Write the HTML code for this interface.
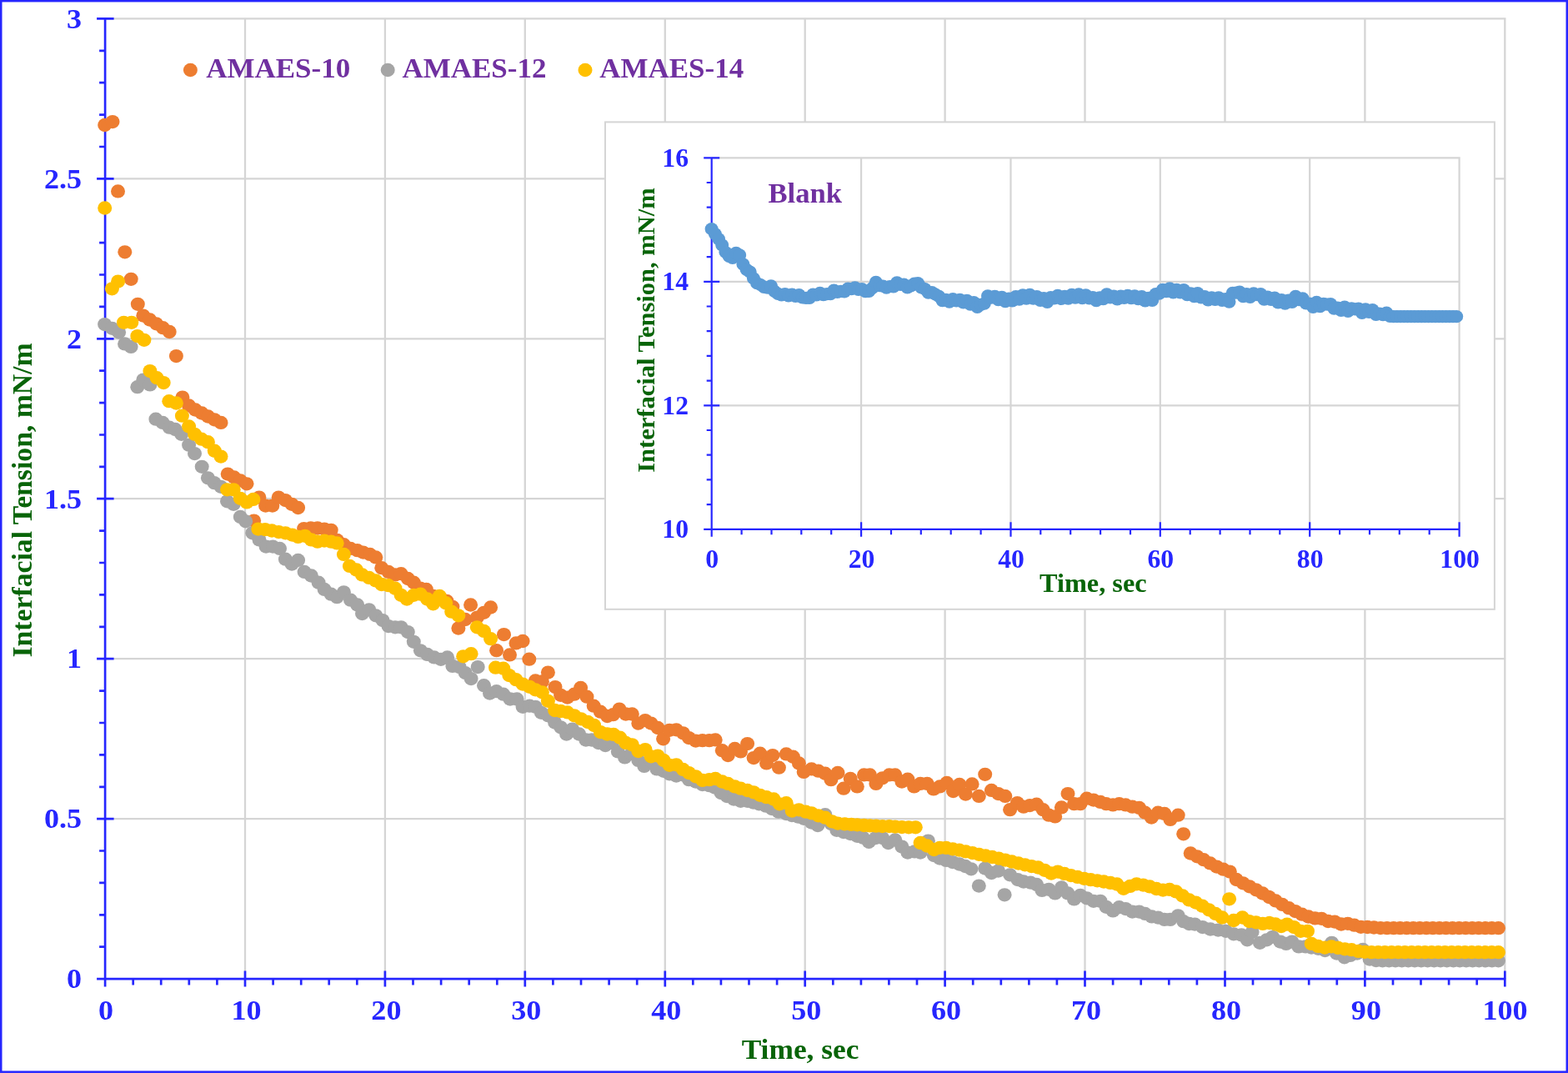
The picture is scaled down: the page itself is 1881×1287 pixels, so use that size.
<!DOCTYPE html>
<html lang="en"><head><meta charset="utf-8"><title>Interfacial Tension vs Time</title>
<style>html,body{margin:0;padding:0;background:#fff}svg{display:block}</style></head>
<body>
<svg width="1881" height="1287" viewBox="0 0 1881 1287" font-family="Liberation Serif, serif" font-weight="bold">
<rect x="0" y="0" width="1881" height="1287" fill="#fff"/>
<rect x="1.25" y="1.2" width="1878.5" height="1284.5" fill="none" stroke="#2626ff" stroke-width="2.5"/>
<path d="M126.1 982.1H1806.5M126.1 790.2H1806.5M126.1 598.2H1806.5M126.1 406.3H1806.5M126.1 214.4H1806.5M126.1 22.4H1806.5M294.0 21.2V1174.1M461.9 21.2V1174.1M629.8 21.2V1174.1M797.8 21.2V1174.1M965.7 21.2V1174.1M1133.6 21.2V1174.1M1301.5 21.2V1174.1M1469.5 21.2V1174.1M1637.4 21.2V1174.1M1805.3 21.2V1174.1" stroke="#d5d5d5" stroke-width="2.3" fill="none"/>
<path d="M126.1 21.0V1183.4M116.1 1174.1H1806.7M116.1 1174.1H136.6M119.1 1135.7H126.1M119.1 1097.3H126.1M119.1 1058.9H126.1M119.1 1020.5H126.1M116.1 982.1H136.6M119.1 943.8H126.1M119.1 905.4H126.1M119.1 867.0H126.1M119.1 828.6H126.1M116.1 790.2H136.6M119.1 751.8H126.1M119.1 713.4H126.1M119.1 675.0H126.1M119.1 636.6H126.1M116.1 598.2H136.6M119.1 559.9H126.1M119.1 521.5H126.1M119.1 483.1H126.1M119.1 444.7H126.1M116.1 406.3H136.6M119.1 367.9H126.1M119.1 329.5H126.1M119.1 291.1H126.1M119.1 252.7H126.1M116.1 214.4H136.6M119.1 176.0H126.1M119.1 137.6H126.1M119.1 99.2H126.1M119.1 60.8H126.1M116.1 22.4H136.6M126.1 1164.6V1183.4M159.7 1174.1V1181.6M193.2 1174.1V1181.6M226.8 1174.1V1181.6M260.4 1174.1V1181.6M294.0 1164.6V1183.4M327.6 1174.1V1181.6M361.2 1174.1V1181.6M394.7 1174.1V1181.6M428.3 1174.1V1181.6M461.9 1164.6V1183.4M495.5 1174.1V1181.6M529.1 1174.1V1181.6M562.7 1174.1V1181.6M596.3 1174.1V1181.6M629.8 1164.6V1183.4M663.4 1174.1V1181.6M697.0 1174.1V1181.6M730.6 1174.1V1181.6M764.2 1174.1V1181.6M797.8 1164.6V1183.4M831.3 1174.1V1181.6M864.9 1174.1V1181.6M898.5 1174.1V1181.6M932.1 1174.1V1181.6M965.7 1164.6V1183.4M999.3 1174.1V1181.6M1032.9 1174.1V1181.6M1066.4 1174.1V1181.6M1100.0 1174.1V1181.6M1133.6 1164.6V1183.4M1167.2 1174.1V1181.6M1200.8 1174.1V1181.6M1234.4 1174.1V1181.6M1267.9 1174.1V1181.6M1301.5 1164.6V1183.4M1335.1 1174.1V1181.6M1368.7 1174.1V1181.6M1402.3 1174.1V1181.6M1435.9 1174.1V1181.6M1469.5 1164.6V1183.4M1503.0 1174.1V1181.6M1536.6 1174.1V1181.6M1570.2 1174.1V1181.6M1603.8 1174.1V1181.6M1637.4 1164.6V1183.4M1671.0 1174.1V1181.6M1704.5 1174.1V1181.6M1738.1 1174.1V1181.6M1771.7 1174.1V1181.6M1805.3 1164.6V1183.4" stroke="#2626ff" stroke-width="2.7" fill="none"/>
<text x="98.0" y="1185.3" font-size="34.67" fill="#2626ff" text-anchor="end" textLength="18.0" lengthAdjust="spacingAndGlyphs" >0</text>
<text x="98.0" y="993.4" font-size="34.67" fill="#2626ff" text-anchor="end" textLength="45.1" lengthAdjust="spacingAndGlyphs" >0.5</text>
<text x="98.0" y="801.4" font-size="34.67" fill="#2626ff" text-anchor="end" textLength="18.0" lengthAdjust="spacingAndGlyphs" >1</text>
<text x="98.0" y="609.5" font-size="34.67" fill="#2626ff" text-anchor="end" textLength="45.1" lengthAdjust="spacingAndGlyphs" >1.5</text>
<text x="98.0" y="417.5" font-size="34.67" fill="#2626ff" text-anchor="end" textLength="18.0" lengthAdjust="spacingAndGlyphs" >2</text>
<text x="98.0" y="225.6" font-size="34.67" fill="#2626ff" text-anchor="end" textLength="45.1" lengthAdjust="spacingAndGlyphs" >2.5</text>
<text x="98.0" y="33.6" font-size="34.67" fill="#2626ff" text-anchor="end" textLength="18.0" lengthAdjust="spacingAndGlyphs" >3</text>
<text x="127.0" y="1223.4" font-size="34.67" fill="#2626ff" text-anchor="middle" textLength="18.0" lengthAdjust="spacingAndGlyphs" >0</text>
<text x="295.5" y="1223.4" font-size="34.67" fill="#2626ff" text-anchor="middle" textLength="36.1" lengthAdjust="spacingAndGlyphs" >10</text>
<text x="463.4" y="1223.4" font-size="34.67" fill="#2626ff" text-anchor="middle" textLength="36.1" lengthAdjust="spacingAndGlyphs" >20</text>
<text x="631.3" y="1223.4" font-size="34.67" fill="#2626ff" text-anchor="middle" textLength="36.1" lengthAdjust="spacingAndGlyphs" >30</text>
<text x="799.3" y="1223.4" font-size="34.67" fill="#2626ff" text-anchor="middle" textLength="36.1" lengthAdjust="spacingAndGlyphs" >40</text>
<text x="967.2" y="1223.4" font-size="34.67" fill="#2626ff" text-anchor="middle" textLength="36.1" lengthAdjust="spacingAndGlyphs" >50</text>
<text x="1135.1" y="1223.4" font-size="34.67" fill="#2626ff" text-anchor="middle" textLength="36.1" lengthAdjust="spacingAndGlyphs" >60</text>
<text x="1303.0" y="1223.4" font-size="34.67" fill="#2626ff" text-anchor="middle" textLength="36.1" lengthAdjust="spacingAndGlyphs" >70</text>
<text x="1471.0" y="1223.4" font-size="34.67" fill="#2626ff" text-anchor="middle" textLength="36.1" lengthAdjust="spacingAndGlyphs" >80</text>
<text x="1638.9" y="1223.4" font-size="34.67" fill="#2626ff" text-anchor="middle" textLength="36.1" lengthAdjust="spacingAndGlyphs" >90</text>
<text x="1805.5" y="1223.4" font-size="34.67" fill="#2626ff" text-anchor="middle" textLength="54.1" lengthAdjust="spacingAndGlyphs" >100</text>
<text x="889.7" y="1269.9" font-size="34.67" fill="#086408" text-anchor="start" textLength="140.7" lengthAdjust="spacingAndGlyphs" >Time, sec</text>
<text transform="translate(38.3,788.5) rotate(-90)" font-size="34.67" fill="#086408" textLength="377" lengthAdjust="spacingAndGlyphs">Interfacial Tension, mN/m</text>
<ellipse cx="228.4" cy="84" rx="8.5" ry="8.15" fill="#ed7d31"/><text x="247.2" y="93.1" font-size="34.67" fill="#7030a0" text-anchor="start" textLength="173.0" lengthAdjust="spacingAndGlyphs" >AMAES-10</text>
<ellipse cx="465.2" cy="84" rx="8.5" ry="8.15" fill="#a5a5a5"/><text x="482.4" y="93.1" font-size="34.67" fill="#7030a0" text-anchor="start" textLength="173.0" lengthAdjust="spacingAndGlyphs" >AMAES-12</text>
<ellipse cx="702.0" cy="84" rx="8.5" ry="8.15" fill="#ffc000"/><text x="719.2" y="93.1" font-size="34.67" fill="#7030a0" text-anchor="start" textLength="173.0" lengthAdjust="spacingAndGlyphs" >AMAES-14</text>
<g fill="#ed7d31"><ellipse cx="125.7" cy="150.0" rx="8.5" ry="8.15"/><ellipse cx="135.0" cy="146.1" rx="8.5" ry="8.15"/><ellipse cx="141.5" cy="229.4" rx="8.5" ry="8.15"/><ellipse cx="149.8" cy="302.3" rx="8.5" ry="8.15"/><ellipse cx="157.2" cy="334.8" rx="8.5" ry="8.15"/><ellipse cx="165.3" cy="364.8" rx="8.5" ry="8.15"/><ellipse cx="171.8" cy="378.6" rx="8.5" ry="8.15"/><ellipse cx="179.7" cy="383.5" rx="8.5" ry="8.15"/><ellipse cx="187.5" cy="388.3" rx="8.5" ry="8.15"/><ellipse cx="195.4" cy="393.2" rx="8.5" ry="8.15"/><ellipse cx="203.2" cy="398.0" rx="8.5" ry="8.15"/><ellipse cx="211.4" cy="427.1" rx="8.5" ry="8.15"/><ellipse cx="218.9" cy="476.6" rx="8.5" ry="8.15"/><ellipse cx="226.6" cy="486.5" rx="8.5" ry="8.15"/><ellipse cx="234.3" cy="491.5" rx="8.5" ry="8.15"/><ellipse cx="242.0" cy="495.5" rx="8.5" ry="8.15"/><ellipse cx="249.6" cy="499.5" rx="8.5" ry="8.15"/><ellipse cx="257.3" cy="503.3" rx="8.5" ry="8.15"/><ellipse cx="265.0" cy="506.9" rx="8.5" ry="8.15"/><ellipse cx="273.2" cy="568.6" rx="8.5" ry="8.15"/><ellipse cx="280.8" cy="572.5" rx="8.5" ry="8.15"/><ellipse cx="288.4" cy="576.4" rx="8.5" ry="8.15"/><ellipse cx="296.0" cy="580.3" rx="8.5" ry="8.15"/><ellipse cx="304.6" cy="624.6" rx="8.5" ry="8.15"/><ellipse cx="310.9" cy="596.6" rx="8.5" ry="8.15"/><ellipse cx="318.6" cy="606.6" rx="8.5" ry="8.15"/><ellipse cx="326.8" cy="606.6" rx="8.5" ry="8.15"/><ellipse cx="334.2" cy="596.6" rx="8.5" ry="8.15"/><ellipse cx="342.4" cy="600.1" rx="8.5" ry="8.15"/><ellipse cx="350.1" cy="604.8" rx="8.5" ry="8.15"/><ellipse cx="357.6" cy="609.0" rx="8.5" ry="8.15"/><ellipse cx="364.6" cy="634.1" rx="8.5" ry="8.15"/><ellipse cx="372.8" cy="633.5" rx="8.5" ry="8.15"/><ellipse cx="380.9" cy="633.5" rx="8.5" ry="8.15"/><ellipse cx="389.1" cy="634.6" rx="8.5" ry="8.15"/><ellipse cx="397.2" cy="635.8" rx="8.5" ry="8.15"/><ellipse cx="404.5" cy="648.0" rx="8.5" ry="8.15"/><ellipse cx="412.4" cy="653.2" rx="8.5" ry="8.15"/><ellipse cx="420.5" cy="657.9" rx="8.5" ry="8.15"/><ellipse cx="428.7" cy="660.2" rx="8.5" ry="8.15"/><ellipse cx="435.7" cy="662.6" rx="8.5" ry="8.15"/><ellipse cx="443.8" cy="664.9" rx="8.5" ry="8.15"/><ellipse cx="450.8" cy="668.4" rx="8.5" ry="8.15"/><ellipse cx="457.8" cy="681.2" rx="8.5" ry="8.15"/><ellipse cx="466.0" cy="685.9" rx="8.5" ry="8.15"/><ellipse cx="474.1" cy="689.4" rx="8.5" ry="8.15"/><ellipse cx="481.1" cy="688.2" rx="8.5" ry="8.15"/><ellipse cx="489.3" cy="694.0" rx="8.5" ry="8.15"/><ellipse cx="496.3" cy="698.7" rx="8.5" ry="8.15"/><ellipse cx="504.4" cy="705.7" rx="8.5" ry="8.15"/><ellipse cx="511.4" cy="706.9" rx="8.5" ry="8.15"/><ellipse cx="519.6" cy="715.0" rx="8.5" ry="8.15"/><ellipse cx="527.7" cy="716.2" rx="8.5" ry="8.15"/><ellipse cx="535.9" cy="720.8" rx="8.5" ry="8.15"/><ellipse cx="542.9" cy="727.8" rx="8.5" ry="8.15"/><ellipse cx="549.9" cy="753.5" rx="8.5" ry="8.15"/><ellipse cx="558.1" cy="743.0" rx="8.5" ry="8.15"/><ellipse cx="564.6" cy="725.5" rx="8.5" ry="8.15"/><ellipse cx="572.3" cy="740.6" rx="8.5" ry="8.15"/><ellipse cx="580.5" cy="734.8" rx="8.5" ry="8.15"/><ellipse cx="588.6" cy="728.5" rx="8.5" ry="8.15"/><ellipse cx="595.6" cy="780.2" rx="8.5" ry="8.15"/><ellipse cx="604.5" cy="761.1" rx="8.5" ry="8.15"/><ellipse cx="611.5" cy="785.4" rx="8.5" ry="8.15"/><ellipse cx="619.0" cy="771.4" rx="8.5" ry="8.15"/><ellipse cx="627.1" cy="769.0" rx="8.5" ry="8.15"/><ellipse cx="634.8" cy="790.7" rx="8.5" ry="8.15"/><ellipse cx="642.3" cy="816.4" rx="8.5" ry="8.15"/><ellipse cx="650.4" cy="817.5" rx="8.5" ry="8.15"/><ellipse cx="657.4" cy="806.6" rx="8.5" ry="8.15"/><ellipse cx="666.0" cy="824.1" rx="8.5" ry="8.15"/><ellipse cx="672.6" cy="833.8" rx="8.5" ry="8.15"/><ellipse cx="680.7" cy="836.6" rx="8.5" ry="8.15"/><ellipse cx="688.9" cy="832.7" rx="8.5" ry="8.15"/><ellipse cx="696.6" cy="825.0" rx="8.5" ry="8.15"/><ellipse cx="704.0" cy="835.7" rx="8.5" ry="8.15"/><ellipse cx="712.2" cy="846.7" rx="8.5" ry="8.15"/><ellipse cx="720.3" cy="853.7" rx="8.5" ry="8.15"/><ellipse cx="728.5" cy="859.0" rx="8.5" ry="8.15"/><ellipse cx="735.5" cy="857.2" rx="8.5" ry="8.15"/><ellipse cx="743.0" cy="850.6" rx="8.5" ry="8.15"/><ellipse cx="750.7" cy="856.5" rx="8.5" ry="8.15"/><ellipse cx="758.3" cy="856.5" rx="8.5" ry="8.15"/><ellipse cx="765.8" cy="867.6" rx="8.5" ry="8.15"/><ellipse cx="774.0" cy="864.1" rx="8.5" ry="8.15"/><ellipse cx="781.0" cy="867.6" rx="8.5" ry="8.15"/><ellipse cx="789.1" cy="873.0" rx="8.5" ry="8.15"/><ellipse cx="795.6" cy="886.3" rx="8.5" ry="8.15"/><ellipse cx="803.1" cy="875.8" rx="8.5" ry="8.15"/><ellipse cx="811.3" cy="875.3" rx="8.5" ry="8.15"/><ellipse cx="819.4" cy="879.3" rx="8.5" ry="8.15"/><ellipse cx="826.4" cy="885.1" rx="8.5" ry="8.15"/><ellipse cx="834.6" cy="888.6" rx="8.5" ry="8.15"/><ellipse cx="842.7" cy="888.2" rx="8.5" ry="8.15"/><ellipse cx="850.9" cy="888.2" rx="8.5" ry="8.15"/><ellipse cx="858.2" cy="887.4" rx="8.5" ry="8.15"/><ellipse cx="866.3" cy="900.2" rx="8.5" ry="8.15"/><ellipse cx="873.3" cy="906.1" rx="8.5" ry="8.15"/><ellipse cx="881.5" cy="897.9" rx="8.5" ry="8.15"/><ellipse cx="888.5" cy="901.4" rx="8.5" ry="8.15"/><ellipse cx="896.6" cy="892.1" rx="8.5" ry="8.15"/><ellipse cx="904.1" cy="909.1" rx="8.5" ry="8.15"/><ellipse cx="911.8" cy="903.7" rx="8.5" ry="8.15"/><ellipse cx="919.5" cy="915.4" rx="8.5" ry="8.15"/><ellipse cx="926.9" cy="906.1" rx="8.5" ry="8.15"/><ellipse cx="934.4" cy="920.7" rx="8.5" ry="8.15"/><ellipse cx="943.2" cy="904.4" rx="8.5" ry="8.15"/><ellipse cx="951.4" cy="907.7" rx="8.5" ry="8.15"/><ellipse cx="958.4" cy="915.4" rx="8.5" ry="8.15"/><ellipse cx="964.2" cy="925.9" rx="8.5" ry="8.15"/><ellipse cx="973.5" cy="922.4" rx="8.5" ry="8.15"/><ellipse cx="981.7" cy="924.7" rx="8.5" ry="8.15"/><ellipse cx="989.9" cy="927.7" rx="8.5" ry="8.15"/><ellipse cx="996.9" cy="935.2" rx="8.5" ry="8.15"/><ellipse cx="1005.0" cy="927.0" rx="8.5" ry="8.15"/><ellipse cx="1012.0" cy="945.7" rx="8.5" ry="8.15"/><ellipse cx="1020.2" cy="934.0" rx="8.5" ry="8.15"/><ellipse cx="1028.3" cy="943.4" rx="8.5" ry="8.15"/><ellipse cx="1036.5" cy="929.4" rx="8.5" ry="8.15"/><ellipse cx="1043.5" cy="929.4" rx="8.5" ry="8.15"/><ellipse cx="1050.9" cy="939.9" rx="8.5" ry="8.15"/><ellipse cx="1058.6" cy="933.3" rx="8.5" ry="8.15"/><ellipse cx="1066.8" cy="929.4" rx="8.5" ry="8.15"/><ellipse cx="1073.8" cy="929.4" rx="8.5" ry="8.15"/><ellipse cx="1081.9" cy="937.5" rx="8.5" ry="8.15"/><ellipse cx="1088.9" cy="934.7" rx="8.5" ry="8.15"/><ellipse cx="1096.6" cy="943.4" rx="8.5" ry="8.15"/><ellipse cx="1104.1" cy="939.9" rx="8.5" ry="8.15"/><ellipse cx="1112.2" cy="939.9" rx="8.5" ry="8.15"/><ellipse cx="1119.9" cy="946.4" rx="8.5" ry="8.15"/><ellipse cx="1127.4" cy="943.4" rx="8.5" ry="8.15"/><ellipse cx="1135.8" cy="939.0" rx="8.5" ry="8.15"/><ellipse cx="1143.5" cy="949.1" rx="8.5" ry="8.15"/><ellipse cx="1151.0" cy="940.9" rx="8.5" ry="8.15"/><ellipse cx="1158.4" cy="952.6" rx="8.5" ry="8.15"/><ellipse cx="1166.1" cy="940.4" rx="8.5" ry="8.15"/><ellipse cx="1174.3" cy="954.9" rx="8.5" ry="8.15"/><ellipse cx="1181.7" cy="928.8" rx="8.5" ry="8.15"/><ellipse cx="1189.4" cy="947.9" rx="8.5" ry="8.15"/><ellipse cx="1197.6" cy="952.1" rx="8.5" ry="8.15"/><ellipse cx="1205.8" cy="954.9" rx="8.5" ry="8.15"/><ellipse cx="1211.6" cy="971.2" rx="8.5" ry="8.15"/><ellipse cx="1220.4" cy="963.1" rx="8.5" ry="8.15"/><ellipse cx="1227.9" cy="967.7" rx="8.5" ry="8.15"/><ellipse cx="1235.4" cy="966.1" rx="8.5" ry="8.15"/><ellipse cx="1243.5" cy="964.7" rx="8.5" ry="8.15"/><ellipse cx="1251.2" cy="971.2" rx="8.5" ry="8.15"/><ellipse cx="1258.2" cy="977.7" rx="8.5" ry="8.15"/><ellipse cx="1265.7" cy="979.4" rx="8.5" ry="8.15"/><ellipse cx="1273.4" cy="968.4" rx="8.5" ry="8.15"/><ellipse cx="1281.0" cy="952.1" rx="8.5" ry="8.15"/><ellipse cx="1288.5" cy="964.2" rx="8.5" ry="8.15"/><ellipse cx="1296.0" cy="964.2" rx="8.5" ry="8.15"/><ellipse cx="1303.7" cy="957.7" rx="8.5" ry="8.15"/><ellipse cx="1311.8" cy="959.6" rx="8.5" ry="8.15"/><ellipse cx="1320.0" cy="961.9" rx="8.5" ry="8.15"/><ellipse cx="1327.0" cy="964.2" rx="8.5" ry="8.15"/><ellipse cx="1335.1" cy="965.4" rx="8.5" ry="8.15"/><ellipse cx="1342.6" cy="964.2" rx="8.5" ry="8.15"/><ellipse cx="1350.3" cy="965.4" rx="8.5" ry="8.15"/><ellipse cx="1358.4" cy="967.7" rx="8.5" ry="8.15"/><ellipse cx="1366.6" cy="968.9" rx="8.5" ry="8.15"/><ellipse cx="1373.6" cy="974.7" rx="8.5" ry="8.15"/><ellipse cx="1381.3" cy="980.5" rx="8.5" ry="8.15"/><ellipse cx="1389.2" cy="974.7" rx="8.5" ry="8.15"/><ellipse cx="1396.9" cy="975.9" rx="8.5" ry="8.15"/><ellipse cx="1403.9" cy="982.9" rx="8.5" ry="8.15"/><ellipse cx="1413.2" cy="977.7" rx="8.5" ry="8.15"/><ellipse cx="1419.7" cy="1000.3" rx="8.5" ry="8.15"/><ellipse cx="1428.2" cy="1023.5" rx="8.5" ry="8.15"/><ellipse cx="1436.1" cy="1027.3" rx="8.5" ry="8.15"/><ellipse cx="1443.9" cy="1031.2" rx="8.5" ry="8.15"/><ellipse cx="1451.8" cy="1035.4" rx="8.5" ry="8.15"/><ellipse cx="1459.6" cy="1039.6" rx="8.5" ry="8.15"/><ellipse cx="1467.5" cy="1042.7" rx="8.5" ry="8.15"/><ellipse cx="1475.3" cy="1045.6" rx="8.5" ry="8.15"/><ellipse cx="1483.2" cy="1055.0" rx="8.5" ry="8.15"/><ellipse cx="1491.1" cy="1059.3" rx="8.5" ry="8.15"/><ellipse cx="1498.9" cy="1063.3" rx="8.5" ry="8.15"/><ellipse cx="1506.8" cy="1067.3" rx="8.5" ry="8.15"/><ellipse cx="1514.6" cy="1071.5" rx="8.5" ry="8.15"/><ellipse cx="1522.5" cy="1076.0" rx="8.5" ry="8.15"/><ellipse cx="1530.3" cy="1080.4" rx="8.5" ry="8.15"/><ellipse cx="1538.2" cy="1084.9" rx="8.5" ry="8.15"/><ellipse cx="1546.1" cy="1089.2" rx="8.5" ry="8.15"/><ellipse cx="1553.9" cy="1093.1" rx="8.5" ry="8.15"/><ellipse cx="1561.8" cy="1096.7" rx="8.5" ry="8.15"/><ellipse cx="1569.6" cy="1099.5" rx="8.5" ry="8.15"/><ellipse cx="1577.5" cy="1101.4" rx="8.5" ry="8.15"/><ellipse cx="1585.3" cy="1101.8" rx="8.5" ry="8.15"/><ellipse cx="1593.2" cy="1105.0" rx="8.5" ry="8.15"/><ellipse cx="1601.1" cy="1105.6" rx="8.5" ry="8.15"/><ellipse cx="1608.9" cy="1108.5" rx="8.5" ry="8.15"/><ellipse cx="1616.8" cy="1107.8" rx="8.5" ry="8.15"/><ellipse cx="1624.6" cy="1109.7" rx="8.5" ry="8.15"/><ellipse cx="1632.5" cy="1111.8" rx="8.5" ry="8.15"/><ellipse cx="1640.4" cy="1112.0" rx="8.5" ry="8.15"/><ellipse cx="1648.2" cy="1112.5" rx="8.5" ry="8.15"/><ellipse cx="1656.1" cy="1113.1" rx="8.5" ry="8.15"/><ellipse cx="1663.9" cy="1113.2" rx="8.5" ry="8.15"/><ellipse cx="1671.8" cy="1113.2" rx="8.5" ry="8.15"/><ellipse cx="1679.6" cy="1113.2" rx="8.5" ry="8.15"/><ellipse cx="1687.5" cy="1113.2" rx="8.5" ry="8.15"/><ellipse cx="1695.4" cy="1113.2" rx="8.5" ry="8.15"/><ellipse cx="1703.2" cy="1113.2" rx="8.5" ry="8.15"/><ellipse cx="1711.1" cy="1113.2" rx="8.5" ry="8.15"/><ellipse cx="1718.9" cy="1113.2" rx="8.5" ry="8.15"/><ellipse cx="1726.8" cy="1113.2" rx="8.5" ry="8.15"/><ellipse cx="1734.6" cy="1113.2" rx="8.5" ry="8.15"/><ellipse cx="1742.5" cy="1113.2" rx="8.5" ry="8.15"/><ellipse cx="1750.4" cy="1113.2" rx="8.5" ry="8.15"/><ellipse cx="1758.2" cy="1113.2" rx="8.5" ry="8.15"/><ellipse cx="1766.1" cy="1113.2" rx="8.5" ry="8.15"/><ellipse cx="1773.9" cy="1113.2" rx="8.5" ry="8.15"/><ellipse cx="1781.8" cy="1113.2" rx="8.5" ry="8.15"/><ellipse cx="1789.6" cy="1113.2" rx="8.5" ry="8.15"/><ellipse cx="1797.5" cy="1113.2" rx="8.5" ry="8.15"/></g>
<g fill="#a5a5a5"><ellipse cx="125.6" cy="389.1" rx="8.5" ry="8.15"/><ellipse cx="134.5" cy="393.8" rx="8.5" ry="8.15"/><ellipse cx="142.6" cy="398.5" rx="8.5" ry="8.15"/><ellipse cx="149.6" cy="412.4" rx="8.5" ry="8.15"/><ellipse cx="157.1" cy="415.9" rx="8.5" ry="8.15"/><ellipse cx="164.8" cy="464.2" rx="8.5" ry="8.15"/><ellipse cx="171.8" cy="455.6" rx="8.5" ry="8.15"/><ellipse cx="179.9" cy="461.4" rx="8.5" ry="8.15"/><ellipse cx="186.9" cy="502.7" rx="8.5" ry="8.15"/><ellipse cx="195.1" cy="506.9" rx="8.5" ry="8.15"/><ellipse cx="203.2" cy="512.7" rx="8.5" ry="8.15"/><ellipse cx="210.2" cy="515.0" rx="8.5" ry="8.15"/><ellipse cx="217.7" cy="520.8" rx="8.5" ry="8.15"/><ellipse cx="226.6" cy="533.7" rx="8.5" ry="8.15"/><ellipse cx="233.5" cy="544.1" rx="8.5" ry="8.15"/><ellipse cx="242.2" cy="559.8" rx="8.5" ry="8.15"/><ellipse cx="249.4" cy="573.3" rx="8.5" ry="8.15"/><ellipse cx="256.9" cy="579.1" rx="8.5" ry="8.15"/><ellipse cx="265.0" cy="583.8" rx="8.5" ry="8.15"/><ellipse cx="272.5" cy="601.3" rx="8.5" ry="8.15"/><ellipse cx="280.2" cy="604.8" rx="8.5" ry="8.15"/><ellipse cx="288.3" cy="619.9" rx="8.5" ry="8.15"/><ellipse cx="294.7" cy="625.3" rx="8.5" ry="8.15"/><ellipse cx="302.8" cy="639.3" rx="8.5" ry="8.15"/><ellipse cx="311.0" cy="647.4" rx="8.5" ry="8.15"/><ellipse cx="319.1" cy="655.6" rx="8.5" ry="8.15"/><ellipse cx="327.3" cy="655.6" rx="8.5" ry="8.15"/><ellipse cx="335.5" cy="657.9" rx="8.5" ry="8.15"/><ellipse cx="342.4" cy="670.7" rx="8.5" ry="8.15"/><ellipse cx="350.1" cy="676.6" rx="8.5" ry="8.15"/><ellipse cx="357.6" cy="671.9" rx="8.5" ry="8.15"/><ellipse cx="365.1" cy="685.9" rx="8.5" ry="8.15"/><ellipse cx="373.4" cy="690.5" rx="8.5" ry="8.15"/><ellipse cx="382.1" cy="698.7" rx="8.5" ry="8.15"/><ellipse cx="389.1" cy="706.9" rx="8.5" ry="8.15"/><ellipse cx="397.2" cy="712.7" rx="8.5" ry="8.15"/><ellipse cx="404.2" cy="716.2" rx="8.5" ry="8.15"/><ellipse cx="412.4" cy="710.3" rx="8.5" ry="8.15"/><ellipse cx="420.5" cy="719.7" rx="8.5" ry="8.15"/><ellipse cx="428.7" cy="725.5" rx="8.5" ry="8.15"/><ellipse cx="434.5" cy="736.0" rx="8.5" ry="8.15"/><ellipse cx="442.7" cy="731.3" rx="8.5" ry="8.15"/><ellipse cx="450.8" cy="738.3" rx="8.5" ry="8.15"/><ellipse cx="459.0" cy="744.1" rx="8.5" ry="8.15"/><ellipse cx="466.0" cy="751.1" rx="8.5" ry="8.15"/><ellipse cx="474.1" cy="752.3" rx="8.5" ry="8.15"/><ellipse cx="481.1" cy="752.3" rx="8.5" ry="8.15"/><ellipse cx="489.3" cy="758.1" rx="8.5" ry="8.15"/><ellipse cx="496.3" cy="769.8" rx="8.5" ry="8.15"/><ellipse cx="504.4" cy="780.3" rx="8.5" ry="8.15"/><ellipse cx="512.6" cy="784.9" rx="8.5" ry="8.15"/><ellipse cx="520.8" cy="788.4" rx="8.5" ry="8.15"/><ellipse cx="528.9" cy="790.8" rx="8.5" ry="8.15"/><ellipse cx="536.6" cy="788.4" rx="8.5" ry="8.15"/><ellipse cx="542.9" cy="798.9" rx="8.5" ry="8.15"/><ellipse cx="551.1" cy="800.1" rx="8.5" ry="8.15"/><ellipse cx="558.1" cy="807.1" rx="8.5" ry="8.15"/><ellipse cx="565.1" cy="814.1" rx="8.5" ry="8.15"/><ellipse cx="573.2" cy="800.1" rx="8.5" ry="8.15"/><ellipse cx="580.5" cy="822.2" rx="8.5" ry="8.15"/><ellipse cx="587.5" cy="831.5" rx="8.5" ry="8.15"/><ellipse cx="595.6" cy="829.2" rx="8.5" ry="8.15"/><ellipse cx="603.8" cy="832.7" rx="8.5" ry="8.15"/><ellipse cx="612.0" cy="838.5" rx="8.5" ry="8.15"/><ellipse cx="620.1" cy="838.5" rx="8.5" ry="8.15"/><ellipse cx="627.1" cy="847.8" rx="8.5" ry="8.15"/><ellipse cx="635.3" cy="846.7" rx="8.5" ry="8.15"/><ellipse cx="642.3" cy="847.8" rx="8.5" ry="8.15"/><ellipse cx="649.3" cy="854.8" rx="8.5" ry="8.15"/><ellipse cx="657.4" cy="858.3" rx="8.5" ry="8.15"/><ellipse cx="665.6" cy="866.5" rx="8.5" ry="8.15"/><ellipse cx="672.6" cy="872.3" rx="8.5" ry="8.15"/><ellipse cx="679.6" cy="880.5" rx="8.5" ry="8.15"/><ellipse cx="686.6" cy="874.6" rx="8.5" ry="8.15"/><ellipse cx="694.7" cy="880.5" rx="8.5" ry="8.15"/><ellipse cx="702.9" cy="887.5" rx="8.5" ry="8.15"/><ellipse cx="709.9" cy="887.5" rx="8.5" ry="8.15"/><ellipse cx="718.0" cy="891.0" rx="8.5" ry="8.15"/><ellipse cx="726.2" cy="894.0" rx="8.5" ry="8.15"/><ellipse cx="734.3" cy="891.0" rx="8.5" ry="8.15"/><ellipse cx="741.3" cy="901.4" rx="8.5" ry="8.15"/><ellipse cx="749.5" cy="908.4" rx="8.5" ry="8.15"/><ellipse cx="757.6" cy="903.8" rx="8.5" ry="8.15"/><ellipse cx="765.8" cy="911.9" rx="8.5" ry="8.15"/><ellipse cx="772.8" cy="918.9" rx="8.5" ry="8.15"/><ellipse cx="781.0" cy="913.1" rx="8.5" ry="8.15"/><ellipse cx="788.0" cy="922.4" rx="8.5" ry="8.15"/><ellipse cx="796.1" cy="924.8" rx="8.5" ry="8.15"/><ellipse cx="803.1" cy="928.3" rx="8.5" ry="8.15"/><ellipse cx="811.3" cy="930.6" rx="8.5" ry="8.15"/><ellipse cx="819.4" cy="929.4" rx="8.5" ry="8.15"/><ellipse cx="826.4" cy="935.2" rx="8.5" ry="8.15"/><ellipse cx="834.6" cy="937.6" rx="8.5" ry="8.15"/><ellipse cx="842.7" cy="941.1" rx="8.5" ry="8.15"/><ellipse cx="850.9" cy="942.2" rx="8.5" ry="8.15"/><ellipse cx="857.5" cy="944.5" rx="8.5" ry="8.15"/><ellipse cx="865.0" cy="951.0" rx="8.5" ry="8.15"/><ellipse cx="872.1" cy="955.0" rx="8.5" ry="8.15"/><ellipse cx="880.3" cy="958.5" rx="8.5" ry="8.15"/><ellipse cx="888.5" cy="960.8" rx="8.5" ry="8.15"/><ellipse cx="896.6" cy="960.8" rx="8.5" ry="8.15"/><ellipse cx="903.6" cy="962.5" rx="8.5" ry="8.15"/><ellipse cx="910.6" cy="964.3" rx="8.5" ry="8.15"/><ellipse cx="918.8" cy="966.7" rx="8.5" ry="8.15"/><ellipse cx="926.0" cy="970.0" rx="8.5" ry="8.15"/><ellipse cx="933.9" cy="973.7" rx="8.5" ry="8.15"/><ellipse cx="943.2" cy="976.0" rx="8.5" ry="8.15"/><ellipse cx="950.0" cy="978.0" rx="8.5" ry="8.15"/><ellipse cx="957.2" cy="979.5" rx="8.5" ry="8.15"/><ellipse cx="964.2" cy="981.8" rx="8.5" ry="8.15"/><ellipse cx="973.5" cy="986.5" rx="8.5" ry="8.15"/><ellipse cx="981.0" cy="990.0" rx="8.5" ry="8.15"/><ellipse cx="989.9" cy="977.2" rx="8.5" ry="8.15"/><ellipse cx="997.0" cy="988.0" rx="8.5" ry="8.15"/><ellipse cx="1003.8" cy="995.8" rx="8.5" ry="8.15"/><ellipse cx="1012.0" cy="998.1" rx="8.5" ry="8.15"/><ellipse cx="1020.2" cy="1000.0" rx="8.5" ry="8.15"/><ellipse cx="1028.3" cy="1002.8" rx="8.5" ry="8.15"/><ellipse cx="1035.3" cy="1004.7" rx="8.5" ry="8.15"/><ellipse cx="1042.3" cy="1009.8" rx="8.5" ry="8.15"/><ellipse cx="1050.5" cy="1005.1" rx="8.5" ry="8.15"/><ellipse cx="1058.6" cy="1005.1" rx="8.5" ry="8.15"/><ellipse cx="1065.6" cy="1011.0" rx="8.5" ry="8.15"/><ellipse cx="1073.8" cy="1007.5" rx="8.5" ry="8.15"/><ellipse cx="1081.9" cy="1015.6" rx="8.5" ry="8.15"/><ellipse cx="1088.9" cy="1022.6" rx="8.5" ry="8.15"/><ellipse cx="1097.1" cy="1021.4" rx="8.5" ry="8.15"/><ellipse cx="1104.1" cy="1022.6" rx="8.5" ry="8.15"/><ellipse cx="1113.4" cy="1008.6" rx="8.5" ry="8.15"/><ellipse cx="1120.4" cy="1026.1" rx="8.5" ry="8.15"/><ellipse cx="1127.4" cy="1029.6" rx="8.5" ry="8.15"/><ellipse cx="1135.0" cy="1031.9" rx="8.5" ry="8.15"/><ellipse cx="1142.8" cy="1034.1" rx="8.5" ry="8.15"/><ellipse cx="1151.0" cy="1036.5" rx="8.5" ry="8.15"/><ellipse cx="1158.0" cy="1039.0" rx="8.5" ry="8.15"/><ellipse cx="1165.0" cy="1042.3" rx="8.5" ry="8.15"/><ellipse cx="1174.3" cy="1062.6" rx="8.5" ry="8.15"/><ellipse cx="1181.7" cy="1041.6" rx="8.5" ry="8.15"/><ellipse cx="1189.4" cy="1047.0" rx="8.5" ry="8.15"/><ellipse cx="1197.6" cy="1044.6" rx="8.5" ry="8.15"/><ellipse cx="1205.1" cy="1073.3" rx="8.5" ry="8.15"/><ellipse cx="1211.6" cy="1049.3" rx="8.5" ry="8.15"/><ellipse cx="1220.9" cy="1055.1" rx="8.5" ry="8.15"/><ellipse cx="1227.9" cy="1057.5" rx="8.5" ry="8.15"/><ellipse cx="1236.1" cy="1058.6" rx="8.5" ry="8.15"/><ellipse cx="1243.5" cy="1061.0" rx="8.5" ry="8.15"/><ellipse cx="1250.0" cy="1067.9" rx="8.5" ry="8.15"/><ellipse cx="1258.2" cy="1066.8" rx="8.5" ry="8.15"/><ellipse cx="1265.7" cy="1071.4" rx="8.5" ry="8.15"/><ellipse cx="1273.4" cy="1064.5" rx="8.5" ry="8.15"/><ellipse cx="1281.0" cy="1071.4" rx="8.5" ry="8.15"/><ellipse cx="1288.5" cy="1078.4" rx="8.5" ry="8.15"/><ellipse cx="1296.0" cy="1073.8" rx="8.5" ry="8.15"/><ellipse cx="1303.7" cy="1077.3" rx="8.5" ry="8.15"/><ellipse cx="1311.8" cy="1080.8" rx="8.5" ry="8.15"/><ellipse cx="1320.0" cy="1080.8" rx="8.5" ry="8.15"/><ellipse cx="1327.0" cy="1087.8" rx="8.5" ry="8.15"/><ellipse cx="1335.1" cy="1092.4" rx="8.5" ry="8.15"/><ellipse cx="1342.6" cy="1088.2" rx="8.5" ry="8.15"/><ellipse cx="1350.3" cy="1090.1" rx="8.5" ry="8.15"/><ellipse cx="1358.4" cy="1093.6" rx="8.5" ry="8.15"/><ellipse cx="1366.6" cy="1093.6" rx="8.5" ry="8.15"/><ellipse cx="1373.6" cy="1095.9" rx="8.5" ry="8.15"/><ellipse cx="1381.7" cy="1099.4" rx="8.5" ry="8.15"/><ellipse cx="1389.2" cy="1100.6" rx="8.5" ry="8.15"/><ellipse cx="1396.9" cy="1102.9" rx="8.5" ry="8.15"/><ellipse cx="1403.9" cy="1102.9" rx="8.5" ry="8.15"/><ellipse cx="1413.2" cy="1098.3" rx="8.5" ry="8.15"/><ellipse cx="1419.7" cy="1105.2" rx="8.5" ry="8.15"/><ellipse cx="1426.5" cy="1108.0" rx="8.5" ry="8.15"/><ellipse cx="1433.3" cy="1108.6" rx="8.5" ry="8.15"/><ellipse cx="1442.6" cy="1112.1" rx="8.5" ry="8.15"/><ellipse cx="1452.0" cy="1114.5" rx="8.5" ry="8.15"/><ellipse cx="1461.3" cy="1115.6" rx="8.5" ry="8.15"/><ellipse cx="1470.6" cy="1116.8" rx="8.5" ry="8.15"/><ellipse cx="1479.9" cy="1120.3" rx="8.5" ry="8.15"/><ellipse cx="1489.3" cy="1121.4" rx="8.5" ry="8.15"/><ellipse cx="1496.2" cy="1127.3" rx="8.5" ry="8.15"/><ellipse cx="1502.1" cy="1118.0" rx="8.5" ry="8.15"/><ellipse cx="1511.4" cy="1130.8" rx="8.5" ry="8.15"/><ellipse cx="1519.6" cy="1127.3" rx="8.5" ry="8.15"/><ellipse cx="1526.6" cy="1123.8" rx="8.5" ry="8.15"/><ellipse cx="1535.9" cy="1129.6" rx="8.5" ry="8.15"/><ellipse cx="1542.9" cy="1131.9" rx="8.5" ry="8.15"/><ellipse cx="1549.9" cy="1129.6" rx="8.5" ry="8.15"/><ellipse cx="1558.0" cy="1135.4" rx="8.5" ry="8.15"/><ellipse cx="1566.2" cy="1135.4" rx="8.5" ry="8.15"/><ellipse cx="1573.2" cy="1136.6" rx="8.5" ry="8.15"/><ellipse cx="1581.3" cy="1137.8" rx="8.5" ry="8.15"/><ellipse cx="1589.5" cy="1140.1" rx="8.5" ry="8.15"/><ellipse cx="1597.6" cy="1130.8" rx="8.5" ry="8.15"/><ellipse cx="1603.5" cy="1143.6" rx="8.5" ry="8.15"/><ellipse cx="1612.8" cy="1148.3" rx="8.5" ry="8.15"/><ellipse cx="1619.8" cy="1145.9" rx="8.5" ry="8.15"/><ellipse cx="1628.0" cy="1143.6" rx="8.5" ry="8.15"/><ellipse cx="1634.9" cy="1138.9" rx="8.5" ry="8.15"/><ellipse cx="1643.1" cy="1150.6" rx="8.5" ry="8.15"/><ellipse cx="1650.8" cy="1152.0" rx="8.5" ry="8.15"/><ellipse cx="1658.5" cy="1152.3" rx="8.5" ry="8.15"/><ellipse cx="1666.3" cy="1152.3" rx="8.5" ry="8.15"/><ellipse cx="1674.0" cy="1152.3" rx="8.5" ry="8.15"/><ellipse cx="1681.7" cy="1152.3" rx="8.5" ry="8.15"/><ellipse cx="1689.4" cy="1152.3" rx="8.5" ry="8.15"/><ellipse cx="1697.1" cy="1152.3" rx="8.5" ry="8.15"/><ellipse cx="1704.9" cy="1152.3" rx="8.5" ry="8.15"/><ellipse cx="1712.6" cy="1152.3" rx="8.5" ry="8.15"/><ellipse cx="1720.3" cy="1152.3" rx="8.5" ry="8.15"/><ellipse cx="1728.0" cy="1152.3" rx="8.5" ry="8.15"/><ellipse cx="1735.7" cy="1152.3" rx="8.5" ry="8.15"/><ellipse cx="1743.5" cy="1152.3" rx="8.5" ry="8.15"/><ellipse cx="1751.2" cy="1152.3" rx="8.5" ry="8.15"/><ellipse cx="1758.9" cy="1152.3" rx="8.5" ry="8.15"/><ellipse cx="1766.6" cy="1152.3" rx="8.5" ry="8.15"/><ellipse cx="1774.3" cy="1152.3" rx="8.5" ry="8.15"/><ellipse cx="1782.1" cy="1152.3" rx="8.5" ry="8.15"/><ellipse cx="1789.8" cy="1152.3" rx="8.5" ry="8.15"/><ellipse cx="1797.5" cy="1152.3" rx="8.5" ry="8.15"/></g>
<g fill="#ffc000"><ellipse cx="125.7" cy="249.5" rx="8.5" ry="8.15"/><ellipse cx="134.4" cy="346.3" rx="8.5" ry="8.15"/><ellipse cx="141.6" cy="337.6" rx="8.5" ry="8.15"/><ellipse cx="148.5" cy="386.8" rx="8.5" ry="8.15"/><ellipse cx="157.8" cy="386.8" rx="8.5" ry="8.15"/><ellipse cx="164.8" cy="403.1" rx="8.5" ry="8.15"/><ellipse cx="172.9" cy="407.8" rx="8.5" ry="8.15"/><ellipse cx="179.9" cy="445.1" rx="8.5" ry="8.15"/><ellipse cx="188.1" cy="453.2" rx="8.5" ry="8.15"/><ellipse cx="196.2" cy="459.1" rx="8.5" ry="8.15"/><ellipse cx="202.8" cy="481.2" rx="8.5" ry="8.15"/><ellipse cx="211.4" cy="483.5" rx="8.5" ry="8.15"/><ellipse cx="218.4" cy="498.7" rx="8.5" ry="8.15"/><ellipse cx="226.6" cy="511.5" rx="8.5" ry="8.15"/><ellipse cx="233.5" cy="520.8" rx="8.5" ry="8.15"/><ellipse cx="241.7" cy="526.7" rx="8.5" ry="8.15"/><ellipse cx="249.4" cy="530.2" rx="8.5" ry="8.15"/><ellipse cx="257.3" cy="540.7" rx="8.5" ry="8.15"/><ellipse cx="265.0" cy="547.6" rx="8.5" ry="8.15"/><ellipse cx="272.5" cy="587.3" rx="8.5" ry="8.15"/><ellipse cx="280.2" cy="587.3" rx="8.5" ry="8.15"/><ellipse cx="288.3" cy="597.8" rx="8.5" ry="8.15"/><ellipse cx="296.0" cy="602.4" rx="8.5" ry="8.15"/><ellipse cx="303.9" cy="598.9" rx="8.5" ry="8.15"/><ellipse cx="309.8" cy="634.6" rx="8.5" ry="8.15"/><ellipse cx="318.0" cy="635.1" rx="8.5" ry="8.15"/><ellipse cx="326.1" cy="636.5" rx="8.5" ry="8.15"/><ellipse cx="334.3" cy="638.1" rx="8.5" ry="8.15"/><ellipse cx="342.4" cy="639.3" rx="8.5" ry="8.15"/><ellipse cx="350.6" cy="641.6" rx="8.5" ry="8.15"/><ellipse cx="357.6" cy="643.9" rx="8.5" ry="8.15"/><ellipse cx="365.8" cy="642.8" rx="8.5" ry="8.15"/><ellipse cx="373.4" cy="647.4" rx="8.5" ry="8.15"/><ellipse cx="380.9" cy="649.7" rx="8.5" ry="8.15"/><ellipse cx="389.1" cy="648.6" rx="8.5" ry="8.15"/><ellipse cx="397.2" cy="649.7" rx="8.5" ry="8.15"/><ellipse cx="404.2" cy="651.4" rx="8.5" ry="8.15"/><ellipse cx="412.4" cy="664.9" rx="8.5" ry="8.15"/><ellipse cx="419.4" cy="678.9" rx="8.5" ry="8.15"/><ellipse cx="427.5" cy="683.5" rx="8.5" ry="8.15"/><ellipse cx="434.5" cy="689.4" rx="8.5" ry="8.15"/><ellipse cx="442.7" cy="692.9" rx="8.5" ry="8.15"/><ellipse cx="450.8" cy="696.4" rx="8.5" ry="8.15"/><ellipse cx="457.8" cy="701.0" rx="8.5" ry="8.15"/><ellipse cx="466.0" cy="702.2" rx="8.5" ry="8.15"/><ellipse cx="474.1" cy="705.7" rx="8.5" ry="8.15"/><ellipse cx="481.1" cy="713.8" rx="8.5" ry="8.15"/><ellipse cx="488.1" cy="718.5" rx="8.5" ry="8.15"/><ellipse cx="496.3" cy="713.8" rx="8.5" ry="8.15"/><ellipse cx="504.4" cy="712.7" rx="8.5" ry="8.15"/><ellipse cx="512.6" cy="718.5" rx="8.5" ry="8.15"/><ellipse cx="519.6" cy="724.3" rx="8.5" ry="8.15"/><ellipse cx="527.3" cy="715.0" rx="8.5" ry="8.15"/><ellipse cx="534.7" cy="723.2" rx="8.5" ry="8.15"/><ellipse cx="541.7" cy="733.7" rx="8.5" ry="8.15"/><ellipse cx="549.9" cy="738.3" rx="8.5" ry="8.15"/><ellipse cx="555.7" cy="787.3" rx="8.5" ry="8.15"/><ellipse cx="565.1" cy="784.2" rx="8.5" ry="8.15"/><ellipse cx="572.3" cy="752.3" rx="8.5" ry="8.15"/><ellipse cx="580.5" cy="756.9" rx="8.5" ry="8.15"/><ellipse cx="588.6" cy="766.2" rx="8.5" ry="8.15"/><ellipse cx="594.5" cy="800.7" rx="8.5" ry="8.15"/><ellipse cx="603.8" cy="801.7" rx="8.5" ry="8.15"/><ellipse cx="610.8" cy="810.1" rx="8.5" ry="8.15"/><ellipse cx="619.0" cy="815.2" rx="8.5" ry="8.15"/><ellipse cx="627.1" cy="820.6" rx="8.5" ry="8.15"/><ellipse cx="635.3" cy="823.8" rx="8.5" ry="8.15"/><ellipse cx="642.3" cy="827.3" rx="8.5" ry="8.15"/><ellipse cx="650.4" cy="830.3" rx="8.5" ry="8.15"/><ellipse cx="657.4" cy="840.8" rx="8.5" ry="8.15"/><ellipse cx="665.6" cy="852.0" rx="8.5" ry="8.15"/><ellipse cx="672.6" cy="853.0" rx="8.5" ry="8.15"/><ellipse cx="680.7" cy="854.4" rx="8.5" ry="8.15"/><ellipse cx="688.9" cy="858.3" rx="8.5" ry="8.15"/><ellipse cx="697.0" cy="862.3" rx="8.5" ry="8.15"/><ellipse cx="705.2" cy="866.0" rx="8.5" ry="8.15"/><ellipse cx="712.7" cy="870.0" rx="8.5" ry="8.15"/><ellipse cx="720.3" cy="878.1" rx="8.5" ry="8.15"/><ellipse cx="728.5" cy="880.5" rx="8.5" ry="8.15"/><ellipse cx="736.0" cy="880.9" rx="8.5" ry="8.15"/><ellipse cx="743.7" cy="884.7" rx="8.5" ry="8.15"/><ellipse cx="750.7" cy="891.0" rx="8.5" ry="8.15"/><ellipse cx="758.3" cy="893.3" rx="8.5" ry="8.15"/><ellipse cx="765.8" cy="901.0" rx="8.5" ry="8.15"/><ellipse cx="774.0" cy="899.1" rx="8.5" ry="8.15"/><ellipse cx="781.0" cy="907.3" rx="8.5" ry="8.15"/><ellipse cx="789.1" cy="906.6" rx="8.5" ry="8.15"/><ellipse cx="796.1" cy="911.9" rx="8.5" ry="8.15"/><ellipse cx="803.1" cy="917.8" rx="8.5" ry="8.15"/><ellipse cx="811.3" cy="917.3" rx="8.5" ry="8.15"/><ellipse cx="819.4" cy="922.9" rx="8.5" ry="8.15"/><ellipse cx="826.4" cy="927.1" rx="8.5" ry="8.15"/><ellipse cx="834.6" cy="931.3" rx="8.5" ry="8.15"/><ellipse cx="842.7" cy="935.9" rx="8.5" ry="8.15"/><ellipse cx="850.9" cy="935.2" rx="8.5" ry="8.15"/><ellipse cx="858.2" cy="934.0" rx="8.5" ry="8.15"/><ellipse cx="866.3" cy="937.5" rx="8.5" ry="8.15"/><ellipse cx="873.3" cy="939.9" rx="8.5" ry="8.15"/><ellipse cx="881.5" cy="943.4" rx="8.5" ry="8.15"/><ellipse cx="888.5" cy="945.7" rx="8.5" ry="8.15"/><ellipse cx="896.6" cy="948.0" rx="8.5" ry="8.15"/><ellipse cx="904.1" cy="950.3" rx="8.5" ry="8.15"/><ellipse cx="911.8" cy="953.8" rx="8.5" ry="8.15"/><ellipse cx="919.5" cy="956.2" rx="8.5" ry="8.15"/><ellipse cx="928.1" cy="958.5" rx="8.5" ry="8.15"/><ellipse cx="935.1" cy="964.3" rx="8.5" ry="8.15"/><ellipse cx="943.2" cy="963.2" rx="8.5" ry="8.15"/><ellipse cx="950.2" cy="972.5" rx="8.5" ry="8.15"/><ellipse cx="958.4" cy="971.3" rx="8.5" ry="8.15"/><ellipse cx="966.6" cy="973.7" rx="8.5" ry="8.15"/><ellipse cx="973.5" cy="975.3" rx="8.5" ry="8.15"/><ellipse cx="981.7" cy="978.3" rx="8.5" ry="8.15"/><ellipse cx="989.9" cy="980.7" rx="8.5" ry="8.15"/><ellipse cx="998.0" cy="985.3" rx="8.5" ry="8.15"/><ellipse cx="1005.0" cy="987.6" rx="8.5" ry="8.15"/><ellipse cx="1013.2" cy="988.3" rx="8.5" ry="8.15"/><ellipse cx="1021.3" cy="988.8" rx="8.5" ry="8.15"/><ellipse cx="1028.3" cy="989.3" rx="8.5" ry="8.15"/><ellipse cx="1036.5" cy="990.0" rx="8.5" ry="8.15"/><ellipse cx="1043.5" cy="990.4" rx="8.5" ry="8.15"/><ellipse cx="1050.9" cy="990.7" rx="8.5" ry="8.15"/><ellipse cx="1058.6" cy="991.1" rx="8.5" ry="8.15"/><ellipse cx="1066.8" cy="991.1" rx="8.5" ry="8.15"/><ellipse cx="1073.8" cy="991.6" rx="8.5" ry="8.15"/><ellipse cx="1081.9" cy="992.1" rx="8.5" ry="8.15"/><ellipse cx="1090.1" cy="992.3" rx="8.5" ry="8.15"/><ellipse cx="1098.3" cy="992.3" rx="8.5" ry="8.15"/><ellipse cx="1104.1" cy="1011.0" rx="8.5" ry="8.15"/><ellipse cx="1112.2" cy="1014.5" rx="8.5" ry="8.15"/><ellipse cx="1120.4" cy="1019.1" rx="8.5" ry="8.15"/><ellipse cx="1127.4" cy="1016.8" rx="8.5" ry="8.15"/><ellipse cx="1135.0" cy="1016.9" rx="8.5" ry="8.15"/><ellipse cx="1142.9" cy="1018.3" rx="8.5" ry="8.15"/><ellipse cx="1150.8" cy="1019.7" rx="8.5" ry="8.15"/><ellipse cx="1158.6" cy="1021.4" rx="8.5" ry="8.15"/><ellipse cx="1166.5" cy="1023.1" rx="8.5" ry="8.15"/><ellipse cx="1174.4" cy="1024.8" rx="8.5" ry="8.15"/><ellipse cx="1182.3" cy="1026.4" rx="8.5" ry="8.15"/><ellipse cx="1190.2" cy="1028.0" rx="8.5" ry="8.15"/><ellipse cx="1198.0" cy="1029.6" rx="8.5" ry="8.15"/><ellipse cx="1205.9" cy="1031.6" rx="8.5" ry="8.15"/><ellipse cx="1213.8" cy="1033.5" rx="8.5" ry="8.15"/><ellipse cx="1221.7" cy="1035.5" rx="8.5" ry="8.15"/><ellipse cx="1229.6" cy="1037.3" rx="8.5" ry="8.15"/><ellipse cx="1237.5" cy="1039.1" rx="8.5" ry="8.15"/><ellipse cx="1245.3" cy="1040.5" rx="8.5" ry="8.15"/><ellipse cx="1253.2" cy="1043.8" rx="8.5" ry="8.15"/><ellipse cx="1261.1" cy="1047.5" rx="8.5" ry="8.15"/><ellipse cx="1269.0" cy="1045.6" rx="8.5" ry="8.15"/><ellipse cx="1276.9" cy="1047.9" rx="8.5" ry="8.15"/><ellipse cx="1284.7" cy="1050.1" rx="8.5" ry="8.15"/><ellipse cx="1292.6" cy="1051.9" rx="8.5" ry="8.15"/><ellipse cx="1300.5" cy="1053.8" rx="8.5" ry="8.15"/><ellipse cx="1308.4" cy="1055.2" rx="8.5" ry="8.15"/><ellipse cx="1316.3" cy="1056.3" rx="8.5" ry="8.15"/><ellipse cx="1324.1" cy="1057.5" rx="8.5" ry="8.15"/><ellipse cx="1332.0" cy="1058.9" rx="8.5" ry="8.15"/><ellipse cx="1339.9" cy="1060.5" rx="8.5" ry="8.15"/><ellipse cx="1347.8" cy="1065.8" rx="8.5" ry="8.15"/><ellipse cx="1355.7" cy="1062.9" rx="8.5" ry="8.15"/><ellipse cx="1363.5" cy="1060.3" rx="8.5" ry="8.15"/><ellipse cx="1371.4" cy="1061.6" rx="8.5" ry="8.15"/><ellipse cx="1379.3" cy="1063.4" rx="8.5" ry="8.15"/><ellipse cx="1387.2" cy="1066.0" rx="8.5" ry="8.15"/><ellipse cx="1395.1" cy="1067.6" rx="8.5" ry="8.15"/><ellipse cx="1403.0" cy="1066.9" rx="8.5" ry="8.15"/><ellipse cx="1410.8" cy="1069.4" rx="8.5" ry="8.15"/><ellipse cx="1418.7" cy="1074.4" rx="8.5" ry="8.15"/><ellipse cx="1426.6" cy="1079.4" rx="8.5" ry="8.15"/><ellipse cx="1434.5" cy="1082.6" rx="8.5" ry="8.15"/><ellipse cx="1442.4" cy="1086.7" rx="8.5" ry="8.15"/><ellipse cx="1450.2" cy="1091.3" rx="8.5" ry="8.15"/><ellipse cx="1458.1" cy="1095.9" rx="8.5" ry="8.15"/><ellipse cx="1466.0" cy="1100.5" rx="8.5" ry="8.15"/><ellipse cx="1474.6" cy="1078.3" rx="8.5" ry="8.15"/><ellipse cx="1479.9" cy="1104.0" rx="8.5" ry="8.15"/><ellipse cx="1490.4" cy="1100.5" rx="8.5" ry="8.15"/><ellipse cx="1498.6" cy="1105.1" rx="8.5" ry="8.15"/><ellipse cx="1506.7" cy="1106.3" rx="8.5" ry="8.15"/><ellipse cx="1514.9" cy="1107.9" rx="8.5" ry="8.15"/><ellipse cx="1523.1" cy="1107.0" rx="8.5" ry="8.15"/><ellipse cx="1530.0" cy="1108.5" rx="8.5" ry="8.15"/><ellipse cx="1537.0" cy="1111.0" rx="8.5" ry="8.15"/><ellipse cx="1544.0" cy="1108.6" rx="8.5" ry="8.15"/><ellipse cx="1552.2" cy="1112.1" rx="8.5" ry="8.15"/><ellipse cx="1560.3" cy="1116.8" rx="8.5" ry="8.15"/><ellipse cx="1568.5" cy="1116.8" rx="8.5" ry="8.15"/><ellipse cx="1573.2" cy="1131.9" rx="8.5" ry="8.15"/><ellipse cx="1581.2" cy="1134.9" rx="8.5" ry="8.15"/><ellipse cx="1589.2" cy="1136.6" rx="8.5" ry="8.15"/><ellipse cx="1597.2" cy="1135.3" rx="8.5" ry="8.15"/><ellipse cx="1605.2" cy="1136.9" rx="8.5" ry="8.15"/><ellipse cx="1613.3" cy="1138.3" rx="8.5" ry="8.15"/><ellipse cx="1621.3" cy="1139.2" rx="8.5" ry="8.15"/><ellipse cx="1629.3" cy="1140.9" rx="8.5" ry="8.15"/><ellipse cx="1637.3" cy="1141.8" rx="8.5" ry="8.15"/><ellipse cx="1645.3" cy="1142.2" rx="8.5" ry="8.15"/><ellipse cx="1653.3" cy="1142.2" rx="8.5" ry="8.15"/><ellipse cx="1661.3" cy="1142.2" rx="8.5" ry="8.15"/><ellipse cx="1669.3" cy="1142.2" rx="8.5" ry="8.15"/><ellipse cx="1677.3" cy="1142.2" rx="8.5" ry="8.15"/><ellipse cx="1685.3" cy="1142.2" rx="8.5" ry="8.15"/><ellipse cx="1693.4" cy="1142.2" rx="8.5" ry="8.15"/><ellipse cx="1701.4" cy="1142.2" rx="8.5" ry="8.15"/><ellipse cx="1709.4" cy="1142.2" rx="8.5" ry="8.15"/><ellipse cx="1717.4" cy="1142.2" rx="8.5" ry="8.15"/><ellipse cx="1725.4" cy="1142.2" rx="8.5" ry="8.15"/><ellipse cx="1733.4" cy="1142.2" rx="8.5" ry="8.15"/><ellipse cx="1741.4" cy="1142.2" rx="8.5" ry="8.15"/><ellipse cx="1749.4" cy="1142.2" rx="8.5" ry="8.15"/><ellipse cx="1757.4" cy="1142.2" rx="8.5" ry="8.15"/><ellipse cx="1765.5" cy="1142.2" rx="8.5" ry="8.15"/><ellipse cx="1773.5" cy="1142.2" rx="8.5" ry="8.15"/><ellipse cx="1781.5" cy="1142.2" rx="8.5" ry="8.15"/><ellipse cx="1789.5" cy="1142.2" rx="8.5" ry="8.15"/><ellipse cx="1797.5" cy="1142.2" rx="8.5" ry="8.15"/></g>
<rect x="726" y="146.4" width="1066.9" height="584.4" fill="#fff" stroke="#d5d5d5" stroke-width="2"/>
<path d="M853.7 486.3H1751.6M853.7 337.8H1751.6M853.7 189.3H1751.6M1033.1 188.3V634.8M1212.5 188.3V634.8M1391.8 188.3V634.8M1571.2 188.3V634.8M1750.6 188.3V634.8" stroke="#d5d5d5" stroke-width="2.2" fill="none"/>
<path d="M853.7 188.2V643.8M844.2 634.8H1751.7M844.2 634.8H863.2M847.7 605.1H853.7M847.7 575.4H853.7M847.7 545.7H853.7M847.7 516.0H853.7M844.2 486.3H863.2M847.7 456.6H853.7M847.7 426.9H853.7M847.7 397.2H853.7M847.7 367.5H853.7M844.2 337.8H863.2M847.7 308.1H853.7M847.7 278.4H853.7M847.7 248.7H853.7M847.7 219.0H853.7M844.2 189.3H863.2M853.7 626.3V643.8M889.6 634.8V641.3M925.5 634.8V641.3M961.3 634.8V641.3M997.2 634.8V641.3M1033.1 626.3V643.8M1069.0 634.8V641.3M1104.8 634.8V641.3M1140.7 634.8V641.3M1176.6 634.8V641.3M1212.5 626.3V643.8M1248.3 634.8V641.3M1284.2 634.8V641.3M1320.1 634.8V641.3M1356.0 634.8V641.3M1391.8 626.3V643.8M1427.7 634.8V641.3M1463.6 634.8V641.3M1499.5 634.8V641.3M1535.3 634.8V641.3M1571.2 626.3V643.8M1607.1 634.8V641.3M1643.0 634.8V641.3M1678.8 634.8V641.3M1714.7 634.8V641.3M1750.6 626.3V643.8" stroke="#2626ff" stroke-width="2.2" fill="none"/>
<text x="826.0" y="645.0" font-size="30.5" fill="#2626ff" text-anchor="end" textLength="31.7" lengthAdjust="spacingAndGlyphs" >10</text>
<text x="826.0" y="496.5" font-size="30.5" fill="#2626ff" text-anchor="end" textLength="31.7" lengthAdjust="spacingAndGlyphs" >12</text>
<text x="826.0" y="348.0" font-size="30.5" fill="#2626ff" text-anchor="end" textLength="31.7" lengthAdjust="spacingAndGlyphs" >14</text>
<text x="826.0" y="199.5" font-size="30.5" fill="#2626ff" text-anchor="end" textLength="31.7" lengthAdjust="spacingAndGlyphs" >16</text>
<text x="854.2" y="680.6" font-size="30.5" fill="#2626ff" text-anchor="middle" textLength="15.9" lengthAdjust="spacingAndGlyphs" >0</text>
<text x="1033.6" y="680.6" font-size="30.5" fill="#2626ff" text-anchor="middle" textLength="31.7" lengthAdjust="spacingAndGlyphs" >20</text>
<text x="1213.0" y="680.6" font-size="30.5" fill="#2626ff" text-anchor="middle" textLength="31.7" lengthAdjust="spacingAndGlyphs" >40</text>
<text x="1392.3" y="680.6" font-size="30.5" fill="#2626ff" text-anchor="middle" textLength="31.7" lengthAdjust="spacingAndGlyphs" >60</text>
<text x="1571.7" y="680.6" font-size="30.5" fill="#2626ff" text-anchor="middle" textLength="31.7" lengthAdjust="spacingAndGlyphs" >80</text>
<text x="1751.1" y="680.6" font-size="30.5" fill="#2626ff" text-anchor="middle" textLength="47.6" lengthAdjust="spacingAndGlyphs" >100</text>
<text x="1247.0" y="709.8" font-size="32" fill="#086408" text-anchor="start" textLength="128.6" lengthAdjust="spacingAndGlyphs" >Time, sec</text>
<text transform="translate(785,566.8) rotate(-90)" font-size="29.5" fill="#086408" textLength="341.4" lengthAdjust="spacingAndGlyphs">Interfacial Tension, mN/m</text>
<text x="921.5" y="242.6" font-size="34.67" fill="#7030a0" text-anchor="start" textLength="88.6" lengthAdjust="spacingAndGlyphs" >Blank</text>
<g fill="#5b9bd5"><ellipse cx="853.6" cy="274.7" rx="8.0" ry="7.6"/><ellipse cx="857.8" cy="280.6" rx="8.0" ry="7.6"/><ellipse cx="862.0" cy="286.6" rx="8.0" ry="7.6"/><ellipse cx="866.2" cy="293.9" rx="8.0" ry="7.6"/><ellipse cx="870.4" cy="302.5" rx="8.0" ry="7.6"/><ellipse cx="874.6" cy="307.4" rx="8.0" ry="7.6"/><ellipse cx="878.8" cy="309.3" rx="8.0" ry="7.6"/><ellipse cx="883.0" cy="303.3" rx="8.0" ry="7.6"/><ellipse cx="887.2" cy="305.9" rx="8.0" ry="7.6"/><ellipse cx="891.4" cy="316.9" rx="8.0" ry="7.6"/><ellipse cx="895.6" cy="323.3" rx="8.0" ry="7.6"/><ellipse cx="899.7" cy="326.1" rx="8.0" ry="7.6"/><ellipse cx="903.9" cy="333.8" rx="8.0" ry="7.6"/><ellipse cx="908.1" cy="339.7" rx="8.0" ry="7.6"/><ellipse cx="912.3" cy="341.5" rx="8.0" ry="7.6"/><ellipse cx="916.5" cy="344.3" rx="8.0" ry="7.6"/><ellipse cx="920.7" cy="345.2" rx="8.0" ry="7.6"/><ellipse cx="924.9" cy="342.8" rx="8.0" ry="7.6"/><ellipse cx="929.1" cy="349.4" rx="8.0" ry="7.6"/><ellipse cx="933.3" cy="352.4" rx="8.0" ry="7.6"/><ellipse cx="937.5" cy="353.8" rx="8.0" ry="7.6"/><ellipse cx="941.7" cy="352.7" rx="8.0" ry="7.6"/><ellipse cx="945.9" cy="354.8" rx="8.0" ry="7.6"/><ellipse cx="950.1" cy="353.2" rx="8.0" ry="7.6"/><ellipse cx="954.3" cy="355.3" rx="8.0" ry="7.6"/><ellipse cx="958.5" cy="353.5" rx="8.0" ry="7.6"/><ellipse cx="962.7" cy="357.0" rx="8.0" ry="7.6"/><ellipse cx="966.9" cy="357.4" rx="8.0" ry="7.6"/><ellipse cx="971.1" cy="357.5" rx="8.0" ry="7.6"/><ellipse cx="975.3" cy="353.0" rx="8.0" ry="7.6"/><ellipse cx="979.5" cy="353.8" rx="8.0" ry="7.6"/><ellipse cx="983.7" cy="351.4" rx="8.0" ry="7.6"/><ellipse cx="987.8" cy="353.6" rx="8.0" ry="7.6"/><ellipse cx="992.0" cy="352.7" rx="8.0" ry="7.6"/><ellipse cx="996.2" cy="352.7" rx="8.0" ry="7.6"/><ellipse cx="1000.4" cy="348.2" rx="8.0" ry="7.6"/><ellipse cx="1004.6" cy="350.4" rx="8.0" ry="7.6"/><ellipse cx="1008.8" cy="349.4" rx="8.0" ry="7.6"/><ellipse cx="1013.0" cy="349.9" rx="8.0" ry="7.6"/><ellipse cx="1017.2" cy="346.2" rx="8.0" ry="7.6"/><ellipse cx="1021.4" cy="346.6" rx="8.0" ry="7.6"/><ellipse cx="1025.6" cy="344.9" rx="8.0" ry="7.6"/><ellipse cx="1029.8" cy="347.3" rx="8.0" ry="7.6"/><ellipse cx="1034.0" cy="346.5" rx="8.0" ry="7.6"/><ellipse cx="1038.2" cy="349.7" rx="8.0" ry="7.6"/><ellipse cx="1042.4" cy="349.3" rx="8.0" ry="7.6"/><ellipse cx="1046.6" cy="345.3" rx="8.0" ry="7.6"/><ellipse cx="1050.8" cy="338.4" rx="8.0" ry="7.6"/><ellipse cx="1055.0" cy="342.6" rx="8.0" ry="7.6"/><ellipse cx="1059.2" cy="343.1" rx="8.0" ry="7.6"/><ellipse cx="1063.4" cy="345.2" rx="8.0" ry="7.6"/><ellipse cx="1067.6" cy="343.5" rx="8.0" ry="7.6"/><ellipse cx="1071.8" cy="343.9" rx="8.0" ry="7.6"/><ellipse cx="1076.0" cy="338.8" rx="8.0" ry="7.6"/><ellipse cx="1080.1" cy="341.3" rx="8.0" ry="7.6"/><ellipse cx="1084.3" cy="341.2" rx="8.0" ry="7.6"/><ellipse cx="1088.5" cy="345.0" rx="8.0" ry="7.6"/><ellipse cx="1092.7" cy="342.9" rx="8.0" ry="7.6"/><ellipse cx="1096.9" cy="340.2" rx="8.0" ry="7.6"/><ellipse cx="1101.1" cy="339.5" rx="8.0" ry="7.6"/><ellipse cx="1105.3" cy="344.8" rx="8.0" ry="7.6"/><ellipse cx="1109.5" cy="346.7" rx="8.0" ry="7.6"/><ellipse cx="1113.7" cy="351.2" rx="8.0" ry="7.6"/><ellipse cx="1117.9" cy="350.6" rx="8.0" ry="7.6"/><ellipse cx="1122.1" cy="353.0" rx="8.0" ry="7.6"/><ellipse cx="1126.3" cy="355.3" rx="8.0" ry="7.6"/><ellipse cx="1130.5" cy="360.6" rx="8.0" ry="7.6"/><ellipse cx="1134.7" cy="359.3" rx="8.0" ry="7.6"/><ellipse cx="1138.9" cy="362.1" rx="8.0" ry="7.6"/><ellipse cx="1143.1" cy="358.5" rx="8.0" ry="7.6"/><ellipse cx="1147.3" cy="360.8" rx="8.0" ry="7.6"/><ellipse cx="1151.5" cy="359.4" rx="8.0" ry="7.6"/><ellipse cx="1155.7" cy="362.9" rx="8.0" ry="7.6"/><ellipse cx="1159.9" cy="360.4" rx="8.0" ry="7.6"/><ellipse cx="1164.1" cy="365.2" rx="8.0" ry="7.6"/><ellipse cx="1168.2" cy="362.5" rx="8.0" ry="7.6"/><ellipse cx="1172.4" cy="368.3" rx="8.0" ry="7.6"/><ellipse cx="1176.6" cy="365.4" rx="8.0" ry="7.6"/><ellipse cx="1180.8" cy="364.2" rx="8.0" ry="7.6"/><ellipse cx="1185.0" cy="354.9" rx="8.0" ry="7.6"/><ellipse cx="1189.2" cy="357.2" rx="8.0" ry="7.6"/><ellipse cx="1193.4" cy="355.3" rx="8.0" ry="7.6"/><ellipse cx="1197.6" cy="359.6" rx="8.0" ry="7.6"/><ellipse cx="1201.8" cy="356.3" rx="8.0" ry="7.6"/><ellipse cx="1206.0" cy="361.6" rx="8.0" ry="7.6"/><ellipse cx="1210.2" cy="358.1" rx="8.0" ry="7.6"/><ellipse cx="1214.4" cy="361.0" rx="8.0" ry="7.6"/><ellipse cx="1218.6" cy="355.7" rx="8.0" ry="7.6"/><ellipse cx="1222.8" cy="359.1" rx="8.0" ry="7.6"/><ellipse cx="1227.0" cy="353.8" rx="8.0" ry="7.6"/><ellipse cx="1231.2" cy="358.2" rx="8.0" ry="7.6"/><ellipse cx="1235.4" cy="353.4" rx="8.0" ry="7.6"/><ellipse cx="1239.6" cy="358.1" rx="8.0" ry="7.6"/><ellipse cx="1243.8" cy="355.7" rx="8.0" ry="7.6"/><ellipse cx="1248.0" cy="360.3" rx="8.0" ry="7.6"/><ellipse cx="1252.2" cy="357.7" rx="8.0" ry="7.6"/><ellipse cx="1256.3" cy="362.3" rx="8.0" ry="7.6"/><ellipse cx="1260.5" cy="356.5" rx="8.0" ry="7.6"/><ellipse cx="1264.7" cy="357.8" rx="8.0" ry="7.6"/><ellipse cx="1268.9" cy="354.4" rx="8.0" ry="7.6"/><ellipse cx="1273.1" cy="358.5" rx="8.0" ry="7.6"/><ellipse cx="1277.3" cy="355.3" rx="8.0" ry="7.6"/><ellipse cx="1281.5" cy="358.2" rx="8.0" ry="7.6"/><ellipse cx="1285.7" cy="353.4" rx="8.0" ry="7.6"/><ellipse cx="1289.9" cy="357.1" rx="8.0" ry="7.6"/><ellipse cx="1294.1" cy="352.9" rx="8.0" ry="7.6"/><ellipse cx="1298.3" cy="357.7" rx="8.0" ry="7.6"/><ellipse cx="1302.5" cy="353.9" rx="8.0" ry="7.6"/><ellipse cx="1306.7" cy="357.8" rx="8.0" ry="7.6"/><ellipse cx="1310.9" cy="356.6" rx="8.0" ry="7.6"/><ellipse cx="1315.1" cy="360.7" rx="8.0" ry="7.6"/><ellipse cx="1319.3" cy="356.8" rx="8.0" ry="7.6"/><ellipse cx="1323.5" cy="358.7" rx="8.0" ry="7.6"/><ellipse cx="1327.7" cy="352.8" rx="8.0" ry="7.6"/><ellipse cx="1331.9" cy="356.8" rx="8.0" ry="7.6"/><ellipse cx="1336.1" cy="355.1" rx="8.0" ry="7.6"/><ellipse cx="1340.3" cy="358.9" rx="8.0" ry="7.6"/><ellipse cx="1344.5" cy="355.1" rx="8.0" ry="7.6"/><ellipse cx="1348.6" cy="357.4" rx="8.0" ry="7.6"/><ellipse cx="1352.8" cy="354.4" rx="8.0" ry="7.6"/><ellipse cx="1357.0" cy="357.6" rx="8.0" ry="7.6"/><ellipse cx="1361.2" cy="354.9" rx="8.0" ry="7.6"/><ellipse cx="1365.4" cy="358.6" rx="8.0" ry="7.6"/><ellipse cx="1369.6" cy="355.6" rx="8.0" ry="7.6"/><ellipse cx="1373.8" cy="360.8" rx="8.0" ry="7.6"/><ellipse cx="1378.0" cy="357.4" rx="8.0" ry="7.6"/><ellipse cx="1382.2" cy="360.4" rx="8.0" ry="7.6"/><ellipse cx="1386.4" cy="352.7" rx="8.0" ry="7.6"/><ellipse cx="1390.6" cy="352.1" rx="8.0" ry="7.6"/><ellipse cx="1394.8" cy="347.3" rx="8.0" ry="7.6"/><ellipse cx="1399.0" cy="349.6" rx="8.0" ry="7.6"/><ellipse cx="1403.2" cy="345.9" rx="8.0" ry="7.6"/><ellipse cx="1407.4" cy="350.8" rx="8.0" ry="7.6"/><ellipse cx="1411.6" cy="347.3" rx="8.0" ry="7.6"/><ellipse cx="1415.8" cy="351.0" rx="8.0" ry="7.6"/><ellipse cx="1420.0" cy="347.7" rx="8.0" ry="7.6"/><ellipse cx="1424.2" cy="353.7" rx="8.0" ry="7.6"/><ellipse cx="1428.4" cy="351.8" rx="8.0" ry="7.6"/><ellipse cx="1432.6" cy="355.7" rx="8.0" ry="7.6"/><ellipse cx="1436.7" cy="351.7" rx="8.0" ry="7.6"/><ellipse cx="1440.9" cy="356.8" rx="8.0" ry="7.6"/><ellipse cx="1445.1" cy="355.6" rx="8.0" ry="7.6"/><ellipse cx="1449.3" cy="360.0" rx="8.0" ry="7.6"/><ellipse cx="1453.5" cy="356.8" rx="8.0" ry="7.6"/><ellipse cx="1457.7" cy="359.4" rx="8.0" ry="7.6"/><ellipse cx="1461.9" cy="356.9" rx="8.0" ry="7.6"/><ellipse cx="1466.1" cy="360.5" rx="8.0" ry="7.6"/><ellipse cx="1470.3" cy="358.6" rx="8.0" ry="7.6"/><ellipse cx="1474.5" cy="362.1" rx="8.0" ry="7.6"/><ellipse cx="1478.7" cy="351.3" rx="8.0" ry="7.6"/><ellipse cx="1482.9" cy="351.2" rx="8.0" ry="7.6"/><ellipse cx="1487.1" cy="350.0" rx="8.0" ry="7.6"/><ellipse cx="1491.3" cy="355.6" rx="8.0" ry="7.6"/><ellipse cx="1495.5" cy="352.6" rx="8.0" ry="7.6"/><ellipse cx="1499.7" cy="356.3" rx="8.0" ry="7.6"/><ellipse cx="1503.9" cy="351.8" rx="8.0" ry="7.6"/><ellipse cx="1508.1" cy="353.7" rx="8.0" ry="7.6"/><ellipse cx="1512.3" cy="352.6" rx="8.0" ry="7.6"/><ellipse cx="1516.5" cy="359.2" rx="8.0" ry="7.6"/><ellipse cx="1520.7" cy="356.1" rx="8.0" ry="7.6"/><ellipse cx="1524.8" cy="359.5" rx="8.0" ry="7.6"/><ellipse cx="1529.0" cy="357.1" rx="8.0" ry="7.6"/><ellipse cx="1533.2" cy="363.0" rx="8.0" ry="7.6"/><ellipse cx="1537.4" cy="359.5" rx="8.0" ry="7.6"/><ellipse cx="1541.6" cy="364.1" rx="8.0" ry="7.6"/><ellipse cx="1545.8" cy="360.1" rx="8.0" ry="7.6"/><ellipse cx="1550.0" cy="362.3" rx="8.0" ry="7.6"/><ellipse cx="1554.2" cy="355.4" rx="8.0" ry="7.6"/><ellipse cx="1558.4" cy="359.6" rx="8.0" ry="7.6"/><ellipse cx="1562.6" cy="357.9" rx="8.0" ry="7.6"/><ellipse cx="1566.8" cy="364.0" rx="8.0" ry="7.6"/><ellipse cx="1571.0" cy="364.0" rx="8.0" ry="7.6"/><ellipse cx="1575.2" cy="368.5" rx="8.0" ry="7.6"/><ellipse cx="1579.4" cy="362.4" rx="8.0" ry="7.6"/><ellipse cx="1583.6" cy="367.7" rx="8.0" ry="7.6"/><ellipse cx="1587.8" cy="364.4" rx="8.0" ry="7.6"/><ellipse cx="1592.0" cy="365.2" rx="8.0" ry="7.6"/><ellipse cx="1596.2" cy="364.7" rx="8.0" ry="7.6"/><ellipse cx="1600.4" cy="370.2" rx="8.0" ry="7.6"/><ellipse cx="1604.6" cy="369.1" rx="8.0" ry="7.6"/><ellipse cx="1608.8" cy="372.3" rx="8.0" ry="7.6"/><ellipse cx="1613.0" cy="368.1" rx="8.0" ry="7.6"/><ellipse cx="1617.1" cy="373.5" rx="8.0" ry="7.6"/><ellipse cx="1621.3" cy="369.8" rx="8.0" ry="7.6"/><ellipse cx="1625.5" cy="370.9" rx="8.0" ry="7.6"/><ellipse cx="1629.7" cy="370.1" rx="8.0" ry="7.6"/><ellipse cx="1633.9" cy="375.4" rx="8.0" ry="7.6"/><ellipse cx="1638.1" cy="370.8" rx="8.0" ry="7.6"/><ellipse cx="1642.3" cy="374.5" rx="8.0" ry="7.6"/><ellipse cx="1646.5" cy="371.7" rx="8.0" ry="7.6"/><ellipse cx="1650.7" cy="377.4" rx="8.0" ry="7.6"/><ellipse cx="1654.9" cy="376.2" rx="8.0" ry="7.6"/><ellipse cx="1659.1" cy="377.7" rx="8.0" ry="7.6"/><ellipse cx="1663.3" cy="375.0" rx="8.0" ry="7.6"/><ellipse cx="1667.5" cy="379.4" rx="8.0" ry="7.6"/><ellipse cx="1671.7" cy="379.7" rx="8.0" ry="7.6"/><ellipse cx="1675.9" cy="379.7" rx="8.0" ry="7.6"/><ellipse cx="1680.1" cy="379.7" rx="8.0" ry="7.6"/><ellipse cx="1684.3" cy="379.7" rx="8.0" ry="7.6"/><ellipse cx="1688.5" cy="379.7" rx="8.0" ry="7.6"/><ellipse cx="1692.7" cy="379.7" rx="8.0" ry="7.6"/><ellipse cx="1696.9" cy="379.7" rx="8.0" ry="7.6"/><ellipse cx="1701.1" cy="379.7" rx="8.0" ry="7.6"/><ellipse cx="1705.2" cy="379.7" rx="8.0" ry="7.6"/><ellipse cx="1709.4" cy="379.7" rx="8.0" ry="7.6"/><ellipse cx="1713.6" cy="379.7" rx="8.0" ry="7.6"/><ellipse cx="1717.8" cy="379.7" rx="8.0" ry="7.6"/><ellipse cx="1722.0" cy="379.7" rx="8.0" ry="7.6"/><ellipse cx="1726.2" cy="379.7" rx="8.0" ry="7.6"/><ellipse cx="1730.4" cy="379.7" rx="8.0" ry="7.6"/><ellipse cx="1734.6" cy="379.7" rx="8.0" ry="7.6"/><ellipse cx="1738.8" cy="379.7" rx="8.0" ry="7.6"/><ellipse cx="1743.0" cy="379.7" rx="8.0" ry="7.6"/><ellipse cx="1747.2" cy="379.7" rx="8.0" ry="7.6"/></g>
</svg>
</body></html>
